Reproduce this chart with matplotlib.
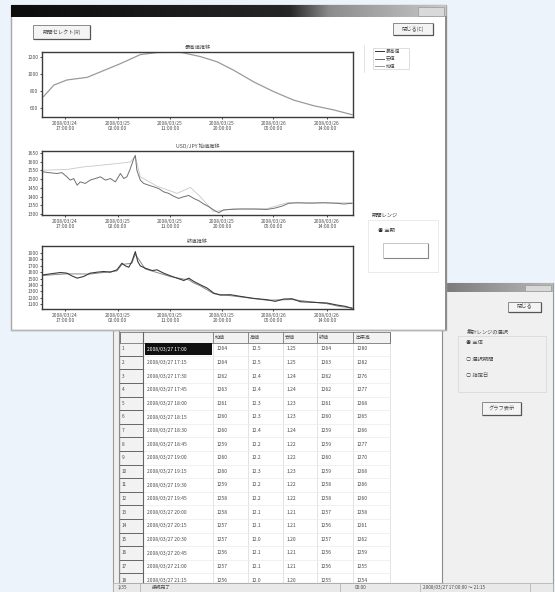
import numpy as np
import matplotlib.pyplot as plt
from matplotlib.patches import Rectangle

plt.rcParams['font.family'] = ['Noto Sans CJK JP', 'DejaVu Sans']

# --- chart data (x: 0-100 = whole period) ---
x_tick_pos = [7.4, 24.3, 41.1, 57.9, 74.4, 91.6]
x_tick_labels = ["2008/03/24\n17:00:00", "2008/03/25\n02:00:00", "2008/03/25\n11:00:00",
                 "2008/03/25\n20:00:00", "2008/03/26\n05:00:00", "2008/03/26\n14:00:00"]

c1_x = [0.5, 3.8, 8.0, 14.5, 18.8, 25.2, 31.6, 37.0, 44.5, 50.9, 56.3, 61.6, 68.1, 74.5,
        80.9, 87.4, 93.8, 99.7]
c1_y = [734, 869, 930, 961, 1026, 1123, 1230, 1255, 1258, 1207, 1145, 1046, 907, 792,
        692, 625, 576, 519]
c1_ticks = [600, 800, 1000, 1200]

c2_x = [0.5, 2.7, 4.8, 6.4, 8.0, 9.1, 10.2, 11.3, 12.3, 13.9, 15.5, 17.1, 18.8, 20.4, 22.0,
        23.6, 25.2, 26.3, 27.3, 28.4, 29.5, 30.0, 30.5, 31.6, 32.7, 34.3, 35.9, 37.5, 39.1,
        40.7, 42.3, 43.9, 45.6, 47.2, 48.8, 50.4, 52.0, 53.6, 55.2, 56.8, 58.4, 60.6, 63.8,
        68.1, 72.3, 75.0, 77.2, 79.3, 82.0, 86.3, 90.6, 94.9, 97.0, 99.7]
c2_y = [1541, 1536, 1532, 1537, 1513, 1494, 1503, 1465, 1484, 1475, 1494, 1503, 1513, 1494,
        1503, 1484, 1532, 1503, 1513, 1560, 1617, 1636, 1551, 1494, 1475, 1465, 1456, 1446,
        1427, 1418, 1402, 1389, 1399, 1406, 1389, 1376, 1357, 1342, 1323, 1307, 1323, 1326,
        1328, 1328, 1326, 1334, 1345, 1361, 1364, 1362, 1364, 1361, 1357, 1361]
c2b_x = [0.5, 8.0, 13.4, 18.8, 24.1, 28.4, 30.0, 31.6, 37.0, 43.4, 47.7, 50.9, 55.2, 61.6,
         72.3, 78.8, 99.7]
c2b_y = [1551, 1555, 1570, 1579, 1589, 1598, 1631, 1513, 1459, 1418, 1452, 1399, 1313, 1330,
         1330, 1364, 1364]
c2_ticks = [1300, 1350, 1400, 1450, 1500, 1550, 1600, 1650]

c3_x = [0.5, 2.7, 5.9, 8.0, 9.6, 11.3, 13.4, 15.5, 17.7, 19.8, 22.0, 24.1, 25.7, 26.8, 27.9,
        28.9, 30.0, 30.8, 31.6, 33.2, 35.4, 37.0, 39.1, 41.3, 43.4, 45.6, 47.2, 48.8, 50.9,
        53.1, 55.2, 57.3, 60.6, 63.8, 68.1, 72.3, 75.0, 77.7, 80.4, 83.1, 87.4, 91.6, 94.9,
        97.5, 99.7]
c3_y = [1558, 1573, 1594, 1584, 1542, 1506, 1532, 1584, 1599, 1610, 1599, 1636, 1740, 1698,
        1677, 1766, 1922, 1766, 1698, 1662, 1625, 1636, 1584, 1542, 1506, 1469, 1506, 1454,
        1402, 1350, 1272, 1240, 1246, 1220, 1188, 1168, 1142, 1178, 1183, 1136, 1126, 1116,
        1084, 1064, 1032]
c3b_x = [0.5, 8.0, 15.5, 24.1, 25.7, 28.9, 30.0, 33.2, 41.3, 45.6, 47.2, 48.8, 50.9, 55.2,
         63.8, 72.3, 80.4, 91.6, 95.9, 99.7]
c3b_y = [1548, 1574, 1570, 1620, 1720, 1740, 1880, 1650, 1530, 1490, 1480, 1430, 1385, 1262,
         1212, 1160, 1170, 1105, 1060, 1040]
c3_ticks = [1100, 1200, 1300, 1400, 1500, 1600, 1700, 1800, 1900]

# --- table data ---
col_headers = ["", "", "始値", "高値", "安値", "終値", "出来高"]
row_dates = ["2008/03/27 17:00", "2008/03/27 17:15", "2008/03/27 17:30", "2008/03/27 17:45",
             "2008/03/27 18:00", "2008/03/27 18:15", "2008/03/27 18:30", "2008/03/27 18:45",
             "2008/03/27 19:00", "2008/03/27 19:15", "2008/03/27 19:30", "2008/03/27 19:45",
             "2008/03/27 20:00", "2008/03/27 20:15", "2008/03/27 20:30", "2008/03/27 20:45",
             "2008/03/27 21:00", "2008/03/27 21:15"]
col_open = ["1264", "1264", "1262", "1263", "1261", "1260", "1260", "1259", "1260", "1260",
            "1259", "1258", "1258", "1257", "1257", "1256", "1257", "1256"]
col_high = ["12.5", "12.5", "12.4", "12.4", "12.3", "12.3", "12.4", "12.2", "12.2", "12.3",
            "12.2", "12.2", "12.1", "12.1", "12.0", "12.1", "12.1", "12.0"]
col_low = ["1.25", "1.25", "1.24", "1.24", "1.23", "1.23", "1.24", "1.22", "1.22", "1.23",
           "1.22", "1.22", "1.21", "1.21", "1.20", "1.21", "1.21", "1.20"]
col_close = ["1264", "1263", "1262", "1262", "1261", "1260", "1259", "1259", "1260", "1259",
             "1258", "1258", "1257", "1256", "1257", "1256", "1256", "1255"]
col_vol = ["1280", "1282", "1276", "1277", "1268", "1265", "1266", "1277", "1270", "1268",
           "1266", "1260", "1258", "1261", "1262", "1259", "1255", "1254"]

W, H = 555, 592
TXT = '#4a4a4a'
fig = plt.figure(figsize=(5.55, 5.92), dpi=100)
bg = fig.add_axes([0, 0, 1, 1])
bg.set_xlim(0, W)
bg.set_ylim(H, 0)
bg.axis('off')
fig.patch.set_facecolor('#edf3fa')


def rect(x0, y0, x1, y1, fc, ec='none', lw=0.8, z=1):
    bg.add_patch(Rectangle((x0, y0), x1 - x0, y1 - y0, fc=fc, ec=ec, lw=lw, zorder=z))


def txt(x, y, s, size=3.8, color=TXT, ha='left', z=5, **kw):
    bg.text(x, y, s, fontsize=size, color=color, ha=ha, va='center', zorder=z, **kw)


def titlebar(x0, x1, y0, y1, xs, vs, z):
    xx = np.linspace(x0, x1, 200)
    grad = np.interp(xx, xs, vs)[None, :]
    bg.imshow(grad, cmap='gray', vmin=0, vmax=1, extent=(x0, x1, y1, y0),
              aspect='auto', zorder=z, interpolation='bilinear')


def button(x0, y0, x1, y1, label, z=3, size=3.8):
    rect(x0, y0, x1, y1, '#f4f4f4', '#8a8a8a', 0.7, z)
    bg.plot([x0 + 1, x1 - 0.5, x1 - 0.5], [y1 - 0.5, y1 - 0.5, y0 + 1], color='#555', lw=0.9, zorder=z + 0.1)
    txt((x0 + x1) / 2, (y0 + y1) / 2, label, size=size, ha='center', z=z + 0.2)


# ---------------- back window ----------------
rect(113, 283, 553, 592, '#f0f0f0', '#9a9a9a', 0.8, 1)
titlebar(113, 553, 283, 292, [113, 400, 553], [0.1, 0.38, 0.72], 1.2)
rect(525, 284.5, 551, 291, '#d8d8d8', '#999', 0.5, 1.3)
# table area
rect(119, 330, 442, 583, 'white', '#8a8a8a', 0.8, 1.4)
rect(120, 332, 143, 583, '#f2f2f2', 'none', 0, 1.5)
col_edges = [120, 143, 213, 248, 283, 317, 353, 390]
rect(120, 332, 390, 343, '#f2f2f2', '#777', 0.6, 1.5)
for xe in col_edges:
    bg.plot([xe, xe], [332, 343], color='#777', lw=0.6, zorder=1.6)
    bg.plot([xe, xe], [343, 583], color='#d8d8d8', lw=0.5, zorder=1.55)
bg.plot([143, 143], [332, 583], color='#666', lw=0.8, zorder=1.6)
for j, h in enumerate(col_headers):
    txt(col_edges[j] + 2, 337.5, h, size=3.6, z=1.7)
row_h = 13.6
for i in range(len(row_dates)):
    yc = 349 + row_h * i
    yb = yc + row_h / 2
    bg.plot([120, 143], [yb, yb], color='#666', lw=0.7, zorder=1.6)
    bg.plot([143, 390], [yb, yb], color='#ececec', lw=0.5, zorder=1.55)
    txt(122, yc, str(i + 1), size=3.4, z=1.7)
    if i == 0:
        rect(145, yc - 6, 212, yc + 6, '#111111', 'none', 0, 1.65)
        txt(147, yc, row_dates[i], size=3.6, color='white', z=1.7)
    else:
        txt(147, yc, row_dates[i], size=3.6, z=1.7)
    for j, col in enumerate([col_open, col_high, col_low, col_close, col_vol]):
        txt(col_edges[j + 2] + 4, yc, col[i], size=3.6, z=1.7)
# status bar
rect(113, 583, 553, 592, '#e9e9e9', '#aaa', 0.5, 1.8)
for xs_ in [140, 340, 420, 530]:
    bg.plot([xs_, xs_], [584, 591], color='#aaa', lw=0.5, zorder=1.9)
txt(118, 587.5, "1/35", size=3.4, z=2)
txt(152, 587.5, "接続完了", size=3.4, z=2)
txt(355, 587.5, "00:00", size=3.4, z=2)
txt(423, 587.5, "2008/03/27 17:00:00 〜 21:15", size=3.4, z=2)
# back window right panel
button(508, 302, 541, 312, "閉じる", z=2)
txt(467, 332, "集計レンジの選択", size=3.8, z=2)
rect(458, 336, 546, 392, 'none', '#d6d6d6', 0.5, 2)
txt(466, 343, "◉ 全体", size=3.8, z=2)
txt(466, 359, "○ 選択期間", size=3.8, z=2)
txt(466, 375, "○ 指定日", size=3.8, z=2)
button(482, 402, 521, 415, "グラフ表示", z=2)

# ---------------- front window ----------------
rect(11, 5, 446, 330, 'white', '#a8a8a8', 1.0, 3)
titlebar(11, 446, 5, 17, [11, 290, 330, 446], [0.05, 0.15, 0.55, 0.78], 3.2)
rect(418, 7, 444, 15.5, '#d9d9d9', '#999', 0.5, 3.3)
bg.plot([445.5, 445.5], [17, 330], color='#8c8c8c', lw=1.4, zorder=3.3)
bg.plot([11, 446], [329.5, 329.5], color='#b8b8b8', lw=1.0, zorder=3.3)
bg.plot([364, 364], [45, 72], color='#dddddd', lw=0.6, zorder=3.3)
button(33, 25, 90, 39, "期間セレクト(R)", z=3.5)
button(393, 23, 433, 35, "閉じる(C)", z=3.5)
# legend box
rect(373, 48, 409, 69, 'white', '#d0d0d0', 0.5, 3.5)
for k, (lab, lc) in enumerate([("最高値", '#333'), ("安値", '#666'), ("始値", '#999')]):
    yy = 51 + k * 7.5
    bg.plot([375, 384], [yy, yy], color=lc, lw=0.7, zorder=3.6)
    txt(386, yy, lab, size=3.4, z=3.6)
# period group
txt(372, 215, "期間レンジ", size=3.8, z=3.6, color='#333')
rect(368, 220, 438, 272, 'none', '#e2e2e2', 0.5, 3.5)
txt(378, 230, "◉ 全期", size=3.8, z=3.6, color='#333')
rect(383, 243, 428, 258, 'white', '#bbbbbb', 0.6, 3.5)
bg.plot([384, 427.5, 427.5], [257.5, 257.5, 244], color='#888', lw=0.8, zorder=3.6)


# ---------------- charts ----------------
def chart(y0, y1, title, xs_list, ys_list, colors, lws, ticks, ylim):
    ax = fig.add_axes([42 / W, 1 - y1 / H, (353 - 42) / W, (y1 - y0) / H])
    ax.set_zorder(5)
    for xs_, ys_, c, lw in zip(xs_list, ys_list, colors, lws):
        ax.plot(xs_, ys_, color=c, lw=lw)
    ax.set_xlim(0, 100)
    ax.set_ylim(*ylim)
    ax.set_yticks(ticks)
    ax.set_yticklabels([str(t) for t in ticks])
    ax.set_xticks(x_tick_pos)
    ax.set_xticklabels(x_tick_labels, linespacing=1.1)
    ax.tick_params(labelsize=3.5, labelcolor=TXT, length=1.5, width=0.5, pad=1.2)
    for s in ax.spines.values():
        s.set_color('#3a3a3a')
        s.set_linewidth(1.0)
    ax.set_title(title, fontsize=3.8, color=TXT, pad=2)
    return ax


chart(52, 117, "最高値推移", [c1_x], [c1_y], ['#9a9a9a'], [0.9], c1_ticks, (492, 1261))
chart(151, 215, "USD/JPY 始値推移", [c2b_x, c2_x], [c2b_y, c2_y], ['#c8c8c8', '#707070'],
      [0.6, 0.7], c2_ticks, (1294, 1661))
chart(246, 309, "終値推移", [c3b_x, c3_x], [c3b_y, c3_y], ['#8a8a8a', '#3a3a3a'],
      [0.7, 0.8], c3_ticks, (1022, 2010))

fig.savefig("out.png", dpi=100, facecolor=fig.get_facecolor())
